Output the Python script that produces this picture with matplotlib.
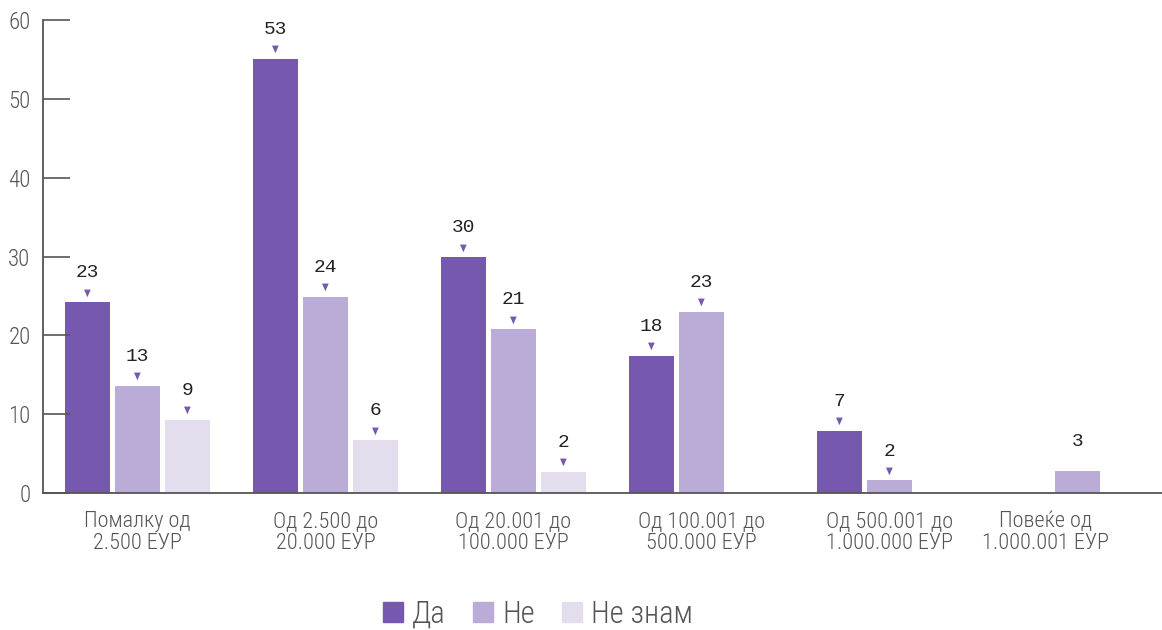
import numpy as np
import matplotlib
matplotlib.use("Agg")
import matplotlib.pyplot as plt
from matplotlib.patches import Patch
import matplotlib.transforms as mtransforms

plt.rcParams['font.family'] = ['Roboto Condensed', 'DejaVu Sans Condensed', 'Liberation Sans Narrow', 'Roboto']
plt.rcParams['font.stretch'] = 'condensed'
plt.rcParams['font.weight'] = 'light'

categories = ["Помалку од\n2.500 ЕУР", "Од 2.500 до\n20.000 ЕУР", "Од 20.001 до\n100.000 ЕУР",
              "Од 100.001 до\n500.000 ЕУР", "Од 500.001 до\n1.000.000 ЕУР", "Повеќе од\n1.000.001 ЕУР"]
series = ["Да", "Не", "Не знам"]
colors = ["#7659ae", "#bbacd7", "#e3ddee"]

# bar heights as drawn, and the labels written above them
da = [24.2, 55.1, 29.9, 17.4, 7.9, 0]
ne = [13.6, 24.9, 20.8, 23.0, 1.6, 2.8]
ne_znam = [9.3, 6.7, 2.7, 0, 0, 0]
da_lbl = ["23", "53", "30", "18", "7", ""]
ne_lbl = ["13", "24", "21", "23", "2", "3"]
ne_znam_lbl = ["9", "6", "2", "", "", ""]
ne_arrow = [True, True, True, True, True, False]

values = [da, ne, ne_znam]
labels = [da_lbl, ne_lbl, ne_znam_lbl]
arrows = [[True] * 6, ne_arrow, [True] * 6]

fig = plt.figure(figsize=(11.62, 6.3), dpi=100)
ax = fig.add_axes([43 / 1162, 1 - 493 / 630, 1 - 43 / 1162, (493 - 20) / 630])

x = np.arange(len(categories))
w = 0.239
step = 0.266
for i in range(3):
    xs = x + (i - 1) * step
    for xi, v, lb, ar in zip(xs, values[i], labels[i], arrows[i]):
        if v <= 0:
            continue
        ax.bar(xi, v, width=w, color=colors[i])
        if ar:
            ax.annotate("▼", (xi, v), xytext=(0, 7), textcoords="offset points",
                        ha="center", va="center", fontsize=7, color="#7659ae",
                        family="DejaVu Sans")
        ax.annotate(lb, (xi, v), xytext=(0, 15), textcoords="offset points",
                    ha="center", va="bottom", fontsize=14, color="#222222",
                    family="Liberation Mono")

ax.set_ylim(0, 60)
ax.set_xlim(-0.503, 5.45)
ax.set_yticks(range(0, 61, 10))
ax.tick_params(axis="y", direction="in", length=19.5, width=1.2, color="#555555",
               labelcolor="#555555", labelsize=16.5, pad=9)
ax.set_xticks(x)
ax.set_xticklabels(categories, linespacing=1.05)
ax.tick_params(axis="x", length=0, labelcolor="#555555", labelsize=16, pad=13)
# last category label sits a little left of its group
last = ax.get_xticklabels()[-1]
last.set_transform(last.get_transform() + mtransforms.ScaledTranslation(-0.32, 0, fig.dpi_scale_trans))
for s in ["top", "right"]:
    ax.spines[s].set_visible(False)
for s in ["left", "bottom"]:
    ax.spines[s].set_color("#555555")
    ax.spines[s].set_linewidth(1.3)

handles = [Patch(color=c, label=s) for c, s in zip(colors, series)]
fig.legend(handles=handles, loc="center", bbox_to_anchor=(0.463, 0.025), ncol=3,
           frameon=False, fontsize=22, handlelength=0.65, handleheight=0.65,
           handletextpad=0.3, columnspacing=0.9, labelcolor="#555555")

fig.savefig("out.png", dpi=100)
